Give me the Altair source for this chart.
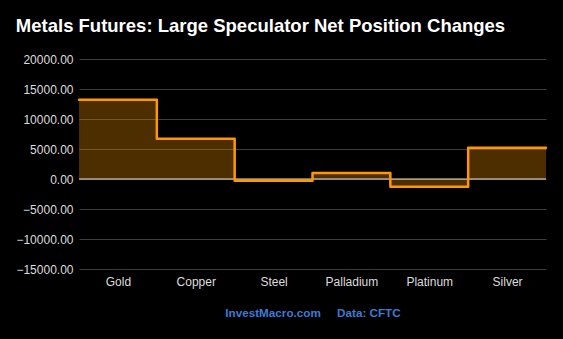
import altair as alt
import pandas as pd

categories = ["Gold", "Copper", "Steel", "Palladium", "Platinum", "Silver"]
values = [13200, 6700, -300, 1000, -1300, 5200]
y_ticks = [-15000, -10000, -5000, 0, 5000, 10000, 15000, 20000]

rows = [{"x": i, "value": v, "cat": c} for i, (c, v) in enumerate(zip(categories, values))]
rows.append({"x": len(categories), "value": values[-1], "cat": categories[-1]})
df = pd.DataFrame(rows)

label_expr = "[" + ",".join(f"'{c}'" for c in categories) + "][floor(datum.value)]"

xscale = alt.Scale(domain=[0, len(categories)], nice=False, zero=False)
yscale = alt.Scale(domain=[-15000, 20000], nice=False)

x_enc = alt.X(
    "x:Q",
    scale=xscale,
    axis=alt.Axis(
        values=[i + 0.5 for i in range(len(categories))],
        labelExpr=label_expr,
        grid=False, ticks=False, domain=False,
        labelColor="#dddddd", labelFont="Liberation Sans", labelFontSize=12,
        labelPadding=7, labelOverlap=False,
        title="InvestMacro.com\u00a0\u00a0\u00a0\u00a0\u00a0Data: CFTC",
        titleColor="#3a7bd5", titleFont="Liberation Sans", titleFontSize=11.7,
        titleFontWeight="bold", titlePadding=20,
    ),
)
y_axis = alt.Axis(
    values=y_ticks, tickCount=len(y_ticks), format=".2f", title=None,
    grid=True, gridColor="#3c3c3c", gridWidth=1,
    ticks=False, domain=False,
    labelColor="#dddddd", labelFont="Liberation Sans", labelFontSize=12,
    labelPadding=6, labelOverlap=False, labelBound=False,
)
y_enc = alt.Y("value:Q", scale=yscale, axis=y_axis)

base = alt.Chart(df)
area = base.mark_area(interpolate="step-after", color="#ff9800", opacity=0.3).encode(x=x_enc, y=y_enc)
zero = alt.Chart(pd.DataFrame({"value": [0]})).mark_rule(color="#efe2cc", strokeWidth=1.2).encode(
    y=alt.Y("value:Q", scale=yscale, axis=y_axis)
)
line = base.mark_line(interpolate="step-after", color="#ff9800", strokeWidth=2.5,
                      strokeJoin="round", strokeCap="round").encode(x=x_enc, y=y_enc)

chart = alt.layer(area, zero, line).properties(
    width=467, height=210,
    title=alt.Title(
        "Metals Futures: Large Speculator Net Position Changes",
        color="white", font="Liberation Sans", fontSize=18.5, fontWeight="bold",
        anchor="middle", dx=-52, offset=3, baseline="alphabetic",
    ),
    autosize=alt.AutoSizeParams(type="none"),
    padding={"left": 79, "top": 59, "right": 17, "bottom": 70},
    background="#000000",
).configure_view(stroke=None)

chart.save("out.html", embed_options={"renderer": "svg", "actions": False})
